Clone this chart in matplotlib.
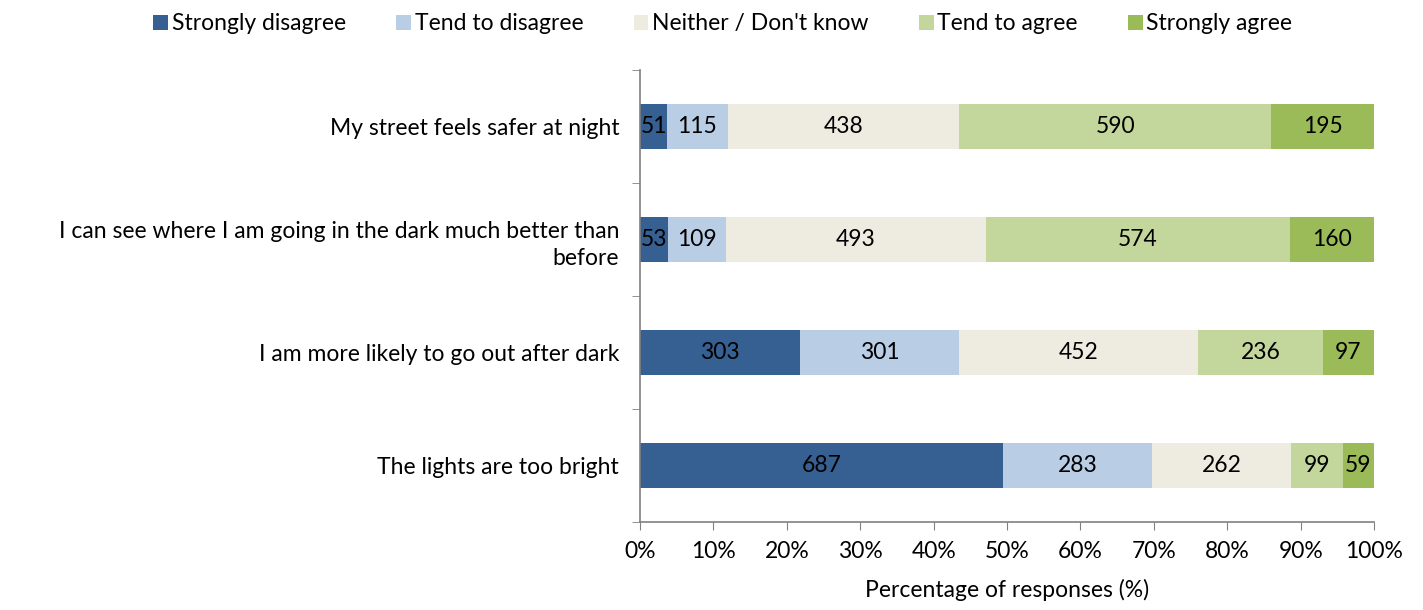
import matplotlib
matplotlib.use('Agg')
import matplotlib.pyplot as plt
import numpy as np

plt.rcParams['font.family'] = ['Lato', 'DejaVu Sans']

categories = [
    'My street feels safer at night',
    'I can see where I am going in the dark much better than\nbefore',
    'I am more likely to go out after dark',
    'The lights are too bright',
]
series_names = ['Strongly disagree', 'Tend to disagree', "Neither / Don't know",
                'Tend to agree', 'Strongly agree']
strongly_disagree = [51, 53, 303, 687]
tend_disagree = [115, 109, 301, 283]
neither = [438, 493, 452, 262]
tend_agree = [590, 574, 236, 99]
strongly_agree = [195, 160, 97, 59]
colors = ['#376092', '#B9CDE5', '#EEECE1', '#C3D69B', '#9BBB59']

counts = np.array([strongly_disagree, tend_disagree, neither, tend_agree, strongly_agree], dtype=float)
totals = counts.sum(axis=0)
pcts = counts / totals * 100

FS = 16.5
fig = plt.figure(figsize=(14.23, 6.10), dpi=100)
ax = fig.add_axes([0.4498, 0.1443, 0.5158, 0.7409])

y = np.arange(len(categories))[::-1]
left = np.zeros(len(categories))
for i, name in enumerate(series_names):
    ax.barh(y, pcts[i], left=left, height=0.4, color=colors[i], label=name)
    for j in range(len(categories)):
        ax.text(left[j] + pcts[i][j] / 2, y[j], f'{int(counts[i][j])}',
                ha='center', va='center', fontsize=FS, color='black')
    left += pcts[i]

ax.set_xlim(0, 100)
ax.set_ylim(-0.5, 3.5)
ax.set_xticks(np.arange(0, 101, 10))
ax.set_xticklabels([f'{v}%' for v in range(0, 101, 10)], fontsize=FS)
ax.set_yticks(y)
ax.set_yticklabels(categories, fontsize=FS, ha='right', linespacing=1.4)
ax.tick_params(axis='y', length=0, pad=15)
ax.set_yticks(np.arange(-0.5, 3.6, 1), minor=True)
ax.tick_params(axis='y', which='minor', length=6, color='#808080')
ax.tick_params(axis='x', length=6, color='#808080', pad=8)
ax.set_xlabel('Percentage of responses (%)', fontsize=FS, labelpad=12)

for s in ['top', 'right']:
    ax.spines[s].set_visible(False)
for s in ['left', 'bottom']:
    ax.spines[s].set_color('#808080')
    ax.spines[s].set_linewidth(1.2)

fig.legend(loc='upper center', bbox_to_anchor=(0.508, 1.012), ncol=5, frameon=False,
           fontsize=FS, handlelength=0.65, handleheight=0.65, handletextpad=0.15,
           columnspacing=2.2)

fig.savefig('out.png', dpi=100)
